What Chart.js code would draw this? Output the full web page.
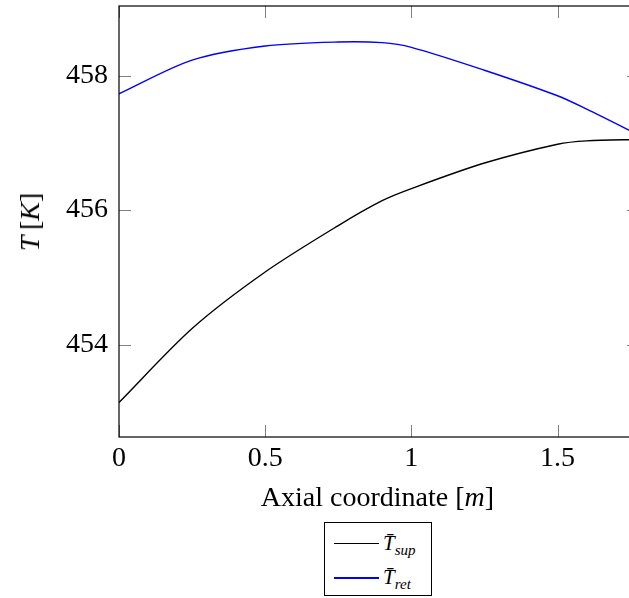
<!DOCTYPE html>
<html>
<head>
<meta charset="utf-8">
<script src="https://cdn.jsdelivr.net/npm/chart.js@4.4.1/dist/chart.umd.min.js"></script>
<style>
  html, body { margin: 0; padding: 0; background: #fff; overflow: hidden; width: 629px; height: 598px; }
  #wrap { position: relative; width: 629px; height: 598px; overflow: hidden; }
  canvas { position: absolute; left: 0; top: 0; }
  .t { position: absolute; font-family: "Liberation Serif", "Times New Roman", serif; color: #000; white-space: nowrap; }
  #xtitle { font-size: 28px; left: 0; width: 755px; text-align: center; top: 480px; line-height: 34px; }
  #ytitle { font-size: 28px; left: 30px; top: 222px; transform: translate(-50%, -50%) rotate(-90deg); line-height: 34px; }
  #legend { position: absolute; left: 324px; top: 522px; width: 108px; height: 74px; border: 1px solid #000; box-sizing: border-box; background: #fff; }
  .lrow { position: absolute; left: 9px; height: 1px; width: 45px; }
  .ltext { position: absolute; left: 58px; font-family: "Liberation Serif", serif; font-size: 21px; font-style: italic; line-height: 24px; }
  .ltext sub { font-size: 15px; vertical-align: baseline; position: relative; top: 5px; }
</style>
</head>
<body>
<div id="wrap">
  <canvas id="c" width="650" height="598"></canvas>
  <div class="t" id="ytitle"><i>T</i>&#8201;[<i>K</i>]</div>
  <div class="t" id="xtitle">Axial coordinate [<i>m</i>]</div>
  <div id="legend">
    <div class="lrow" style="top:20px;background-color:rgb(0,0,0)"></div>
    <div class="ltext" style="top:8px">T&#772;<sub>sup</sub></div>
    <div class="lrow" style="top:54px;background-color:rgb(0,0,255);height:2px"></div>
    <div class="ltext" style="top:42px">T&#772;<sub>ret</sub></div>
  </div>
</div>
<script>
// ---- data ----
const axialX = [0, 0.25, 0.5, 0.75, 0.9, 1.0, 1.25, 1.5, 1.6, 1.78];
const tSup   = [453.14, 454.24, 455.08, 455.77, 456.14, 456.32, 456.70, 456.98, 457.03, 457.05];
const tRet   = [457.73, 458.23, 458.44, 458.50, 458.49, 458.42, 458.08, 457.70, 457.50, 457.11];
const xTicks = [0, 0.5, 1, 1.5];
const yTicks = [454, 456, 458];
const seriesNames = ["T\u0304sup", "T\u0304ret"];

const toPts = (xs, ys) => xs.map((x, i) => ({ x: x, y: ys[i] }));

const frame = {
  id: 'frame',
  afterDatasetsDraw(chart) {
    const { ctx, chartArea: a, scales } = chart;
    ctx.save();
    ctx.strokeStyle = '#808080';
    ctx.lineWidth = 1;
    const L = 12;
    ctx.beginPath();
    xTicks.forEach(v => {
      const px = Math.round(scales.x.getPixelForValue(v)) + 0.5;
      ctx.moveTo(px, a.bottom); ctx.lineTo(px, a.bottom - L);
      ctx.moveTo(px, a.top); ctx.lineTo(px, a.top + L);
    });
    yTicks.forEach(v => {
      const py = Math.round(scales.y.getPixelForValue(v)) + 0.5;
      ctx.moveTo(a.left, py); ctx.lineTo(a.left + L, py);
      ctx.moveTo(a.right, py); ctx.lineTo(a.right - L, py);
    });
    ctx.stroke();
    ctx.strokeStyle = '#000';
    ctx.lineWidth = 1.2;
    ctx.strokeRect(a.left, a.top, a.right - a.left, a.bottom - a.top);
    ctx.restore();
  }
};

new Chart(document.getElementById('c'), {
  type: 'line',
  data: {
    datasets: [
      { label: seriesNames[0], data: toPts(axialX, tSup), borderColor: '#000000', borderWidth: 1.4, pointRadius: 0, tension: 0.3, fill: false },
      { label: seriesNames[1], data: toPts(axialX, tRet), borderColor: '#0000ff', borderWidth: 1.4, pointRadius: 0, tension: 0.3, fill: false }
    ]
  },
  options: {
    responsive: false,
    animation: false,
    devicePixelRatio: 1,
    layout: { autoPadding: false, padding: { top: 6, right: 11, left: 0, bottom: 0 } },
    plugins: { legend: { display: false }, tooltip: { enabled: false } },
    scales: {
      x: {
        type: 'linear', min: 0, max: 1.7786,
        afterBuildTicks: s => { s.ticks = xTicks.map(v => ({ value: v })); },
        afterFit: s => { s.height = 161; s.paddingLeft = 0; s.paddingRight = 0; },
        grid: { display: false, drawTicks: false },
        border: { display: false },
        ticks: { padding: 5, color: '#000', font: { family: 'Liberation Serif', size: 28 }, callback: v => String(v), maxRotation: 0 }
      },
      y: {
        type: 'linear', min: 452.626, max: 459.035,
        afterBuildTicks: s => { s.ticks = yTicks.map(v => ({ value: v })); },
        afterFit: s => { s.width = 119; s.paddingTop = 0; s.paddingBottom = 0; },
        grid: { display: false, drawTicks: false },
        border: { display: false },
        ticks: { padding: 11, color: '#000', font: { family: 'Liberation Serif', size: 28 }, callback: v => String(v) }
      }
    }
  },
  plugins: [frame]
});
</script>
</body>
</html>
